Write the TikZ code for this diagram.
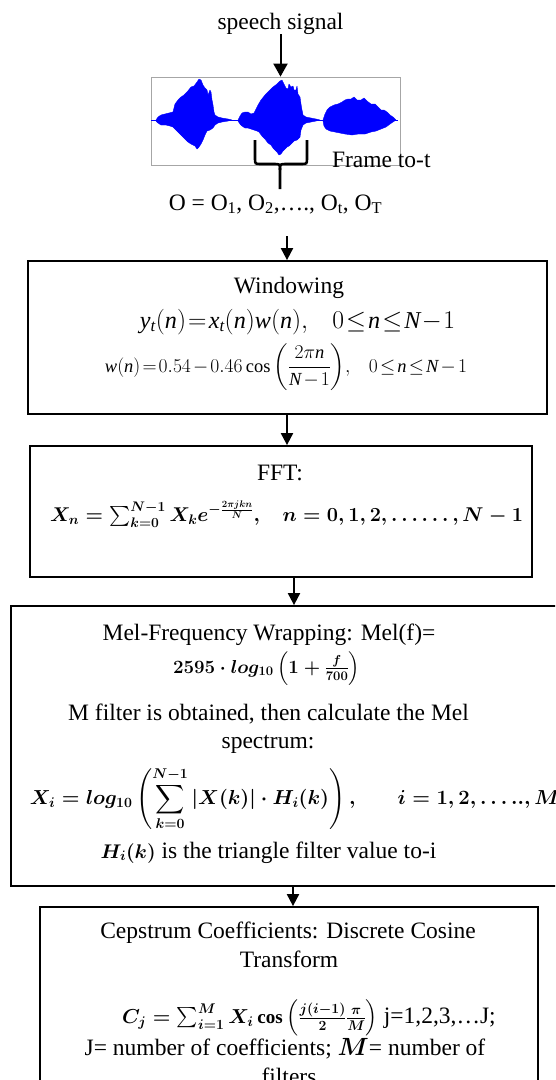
\documentclass[tikz,border=0pt]{standalone}
\usepackage{amsmath}
\usepackage{fontspec}
\setmainfont{Liberation Serif}
\usetikzlibrary{arrows.meta}
\definecolor{wblue}{RGB}{0,0,255}
\newcommand{\vi}[1]{\mathit{#1}}
\begin{document}
\begin{tikzpicture}[x=1pt,y=-1pt,
  txt/.style={font=\fontsize{23.5}{28}\selectfont, inner sep=0pt, outer sep=0pt},
  procbox/.style={draw=black, line width=1.8pt, inner sep=0pt, rectangle},
  wavebox/.style={draw=black!35, line width=0.8pt, inner sep=0pt, rectangle},
  arr/.style={line width=2pt, -{Triangle[width=12pt,length=12pt]}},
  bigarr/.style={line width=2pt, -{Triangle[width=14pt,length=13pt]}},
  wavefill/.style={fill=wblue, draw=wblue, line width=0.4pt, line join=round},
  bracestyle/.style={line width=2.6pt, line cap=butt}]
\useasboundingbox (0,0) rectangle (555,1080);
\begin{scope}
\clip (0,0) rectangle (555,1080);

% ---------- speech signal ----------
\node[txt, anchor=base] (speech) at (280.5,29) {speech signal};
\node[wavebox, minimum width=249, minimum height=88] (wave) at (275.5,121) {};

% waveform
\draw[wblue, line width=0.8pt] (151,120) -- (398,120);
\filldraw[wavefill] (156,120) -- (158,117) -- (161,115) -- (165,114) -- (169,113) -- (173,112) -- (175,104) -- (178,100) -- (181,97) -- (184,95) -- (187,92) -- (191,87) -- (194,86) -- (197,82) -- (199,79) -- (201,80) -- (203,85) -- (205,88) -- (207,90) -- (208,95) -- (210,90) -- (211,92) -- (212,100) -- (213,105) -- (214,112) -- (215,115) -- (218,117) -- (222,118) -- (228,119) -- (232,120)
 -- (228,121) -- (222,122) -- (218,123) -- (215,125) -- (213,128) -- (210,130) -- (207,131) -- (205,135) -- (203,140) -- (201,144) -- (199,147) -- (197,149) -- (195,146) -- (193,145) -- (191,144) -- (188,142) -- (185,139) -- (182,136) -- (178,132) -- (175,129) -- (173,127) -- (170,126) -- (166,125) -- (161,125) -- (158,123) -- (156,121) -- cycle;
\filldraw[wavefill] (238,120) -- (240,116) -- (242,113) -- (245,112) -- (248,112) -- (251,114) -- (254,113) -- (256,109) -- (258,105) -- (261,100) -- (265,95) -- (269,91) -- (273,87) -- (277,84) -- (280,81) -- (282,80) -- (284,84) -- (286,88) -- (288,89) -- (289,84) -- (291,87) -- (293,86) -- (294,90) -- (296,90) -- (297,86) -- (298,94) -- (300,97) -- (301,104) -- (302,110) -- (303,115) -- (306,117) -- (311,118) -- (316,119) -- (320,120)
 -- (316,121) -- (311,122) -- (306,123) -- (303,125) -- (301,130) -- (300,137) -- (297,140) -- (294,141) -- (291,144) -- (289,146) -- (287,147) -- (285,149) -- (283,151) -- (281,154) -- (279,155) -- (277,152) -- (275,150) -- (273,148) -- (271,145) -- (268,143) -- (265,139) -- (262,136) -- (259,132) -- (257,131) -- (254,130) -- (251,129) -- (248,128) -- (245,128) -- (242,126) -- (240,124) -- (238,121) -- cycle;
\filldraw[wavefill] (323,120) -- (325,114) -- (327,110) -- (330,107) -- (334,105) -- (338,104) -- (342,102) -- (345,100) -- (348,99) -- (351,99) -- (354,97) -- (357,100) -- (361,100) -- (364,98) -- (367,101) -- (371,104) -- (375,104) -- (378,107) -- (381,110) -- (384,110) -- (387,112) -- (390,115) -- (393,117) -- (396,120)
 -- (393,122) -- (390,124) -- (386,127) -- (381,129) -- (376,131) -- (371,132) -- (365,134) -- (358,134) -- (352,135) -- (345,134) -- (340,133) -- (335,132) -- (330,131) -- (326,129) -- (324,126) -- (323,121) -- cycle;

% brace
\draw[bracestyle] (255,140) -- (255,158) .. controls (255,164) .. (261,164) -- (274,164) .. controls (280,164) .. (280,170) -- (280,189);
\draw[bracestyle] (307,140) -- (307,158) .. controls (307,164) .. (301,164) -- (286,164) .. controls (280,164) .. (280,170);

\node[txt, anchor=base west] (frame) at (332,167) {Frame to-t};
\node[txt, anchor=base] (obs) at (275.5,210) {O = O\textsubscript{1}, O\textsubscript{2},…., O\textsubscript{t}, O\textsubscript{T}};

\draw[bigarr] (speech.south) -- (speech.south |- wave.north);

% ---------- boxes ----------
\node[procbox, minimum width=519, minimum height=153] (b1) at (287.5,337.5) {};
\node[procbox, minimum width=502, minimum height=131] (b2) at (281,511.5) {};
\node[procbox, minimum width=589, minimum height=280] (b3) at (305.5,746) {};
\node[procbox, minimum width=498, minimum height=203] (b4) at (289,1008.5) {};

% arrow columns
\coordinate (c0) at (287,236);
\coordinate (c2) at (294,0);
\coordinate (c3) at (293,0);
\draw[arr] (c0) -- (c0 |- b1.north);
\draw[arr] (b1.south -| c0) -- (b2.north -| c0);
\draw[arr] (b2.south -| c2) -- (b3.north -| c2);
\draw[arr] (b3.south -| c3) -- (b4.north -| c3);

% ---------- Windowing ----------
\node[txt, anchor=base] (win) at (289,293) {Windowing};
\node[txt, anchor=base] (winf1) at (297.5,328) {\resizebox{315pt}{!}{$\thickmuskip=1.5mu\medmuskip=1mu\vi{y}_{\vi{t}}(\vi{n})=\vi{x}_{\vi{t}}(\vi{n})\vi{w}(\vi{n}),\mkern14mu 0\le \vi{n}\le \vi{N}-1$}};
\node[txt, anchor=base] (winf2) at (286,372) {\resizebox{362pt}{!}{$\thickmuskip=2mu\medmuskip=2mu\vi{w}(\vi{n})=0.54-0.46\cos\left(\dfrac{2\pi\vi{n}}{\vi{N}-1}\right)\!,\mkern14mu 0\le\vi{n}\le\vi{N}-1$}};

% ---------- FFT ----------
\node[txt, anchor=base] (fft) at (280,480) {FFT:};
\node[txt, anchor=base] (fftf) at (286.5,521) {\resizebox{473pt}{!}{\boldmath$X_n=\sum_{k=0}^{N-1}X_k e^{-\frac{2\pi jkn}{N}},\quad n=0,1,2,\ldots\ldots,N-1$}};

% ---------- Mel ----------
\node[txt, anchor=base] (mel1) at (269,640) {Mel-Frequency Wrapping: Mel(f)=};
\node[txt, anchor=base] (melf) at (266.5,673) {\resizebox{187pt}{!}{\boldmath$2595\cdot log_{10}\left(1+\frac{f}{700}\right)$}};
\node[txt, anchor=base] (mel2) at (268.5,720) {M filter is obtained, then calculate the Mel};
\node[txt, anchor=base] (mel3) at (268,748) {spectrum:};
\node[txt, anchor=west] (melbig) at (30,799) {\resizebox{530pt}{!}{\boldmath$\displaystyle X_i = log_{10}\left(\sum_{k=0}^{N-1}|X(k)|\cdot H_i(k)\right),\qquad i=1,2,\ldots..,M$}};
\node[txt, anchor=base] (mel4) at (268.5,858) {\resizebox{55pt}{!}{\boldmath$H_i(k)$} is the triangle filter value to-i};

% ---------- Cepstrum ----------
\node[txt, anchor=base] (cep1) at (288,938) {Cepstrum Coefficients: Discrete Cosine};
\node[txt, anchor=base] (cep2) at (289,967) {Transform};
\node[txt, anchor=base west] (cepf) at (122,1023) {\resizebox{256pt}{!}{\boldmath$C_j=\sum_{i=1}^{M}X_i\cos\left(\frac{j(i-1)}{2}\frac{\pi}{M}\right)$} j=1,2,3,…J;};
\node[txt, anchor=base] (cep3) at (285,1055) {J= number of coefficients; {\boldmath$M$}= number of};
\node[txt, anchor=base] (cep4) at (289,1084) {filters};
\end{scope}
\end{tikzpicture}
\end{document}
